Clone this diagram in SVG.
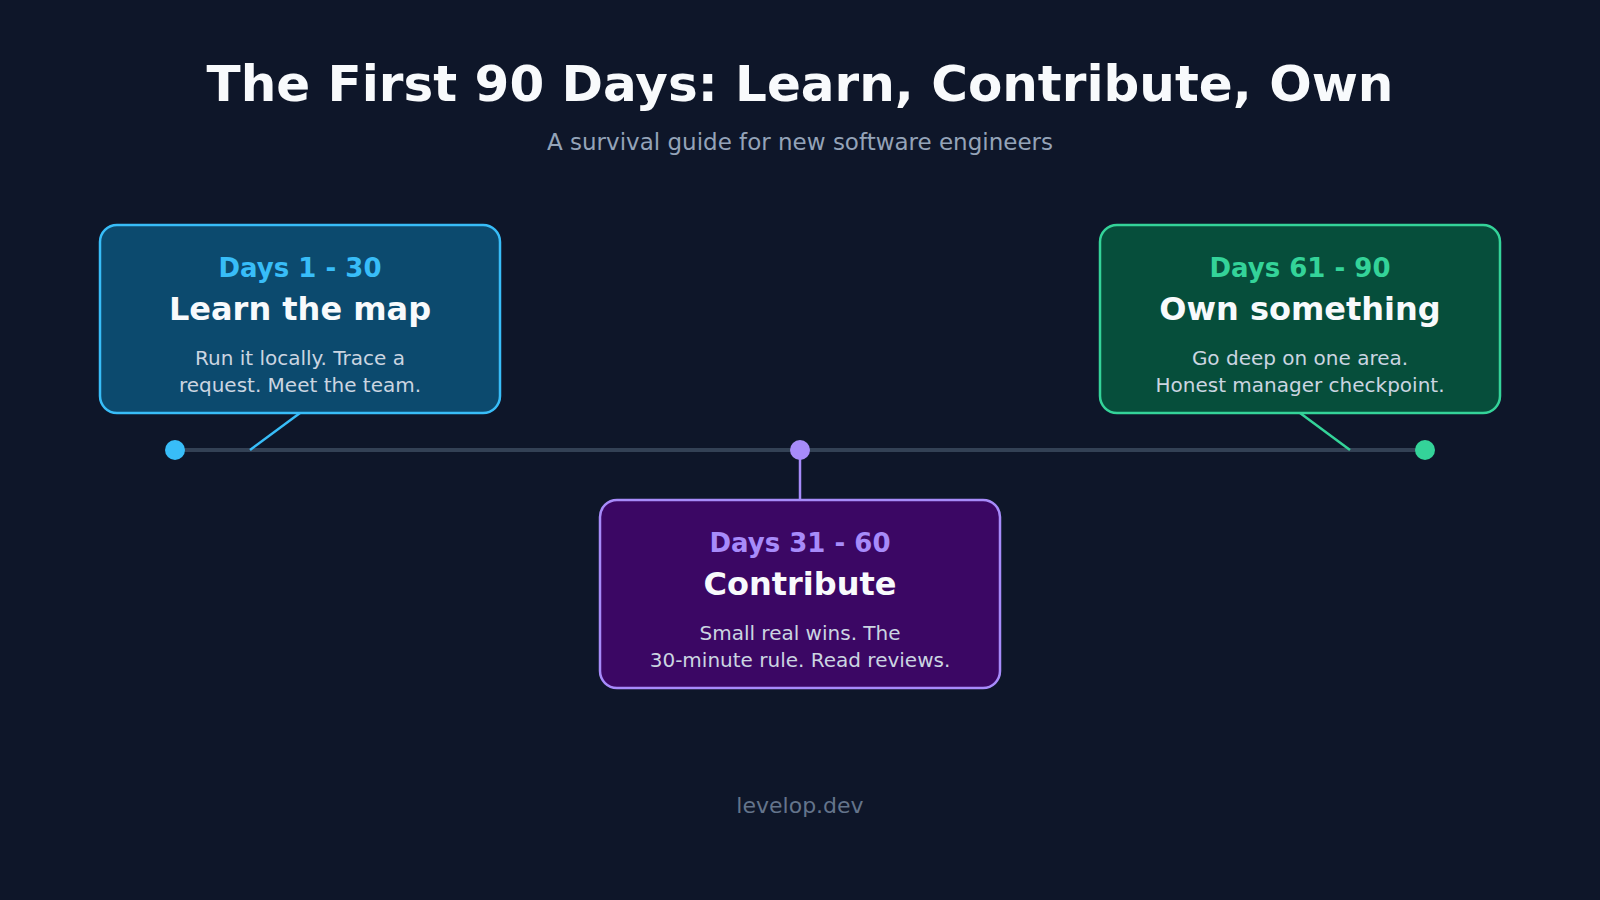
<svg xmlns="http://www.w3.org/2000/svg" width="1600" height="900" viewBox="0 0 1600 900">
<style>
text{font-family:"DejaVu Sans",Verdana,sans-serif;text-anchor:middle}
.title{font-size:50px;font-weight:bold;fill:#f8fafc}
.sub{font-size:23px;fill:#94a3b8}
.days{font-size:26px;font-weight:bold}
.head{font-size:32px;font-weight:bold;fill:#f8fafc}
.desc{font-size:20px;fill:#cbd5e1}
.foot{font-size:22px;fill:#64748b}
.box{stroke-width:2.5}
</style>
<rect width="1600" height="900" fill="#0e1629"/>
<text class="title" x="800" y="101">The First 90 Days: Learn, Contribute, Own</text>
<text class="sub" x="800" y="150">A survival guide for new software engineers</text>
<g id="connectors" stroke-width="2.5">
<line x1="175" y1="450" x2="1425" y2="450" stroke="#334155" stroke-width="4"/>
<line x1="300" y1="413" x2="250" y2="450" stroke="#38bdf8"/>
<line x1="800" y1="450" x2="800" y2="500" stroke="#a78bfa"/>
<line x1="1300" y1="413" x2="1350" y2="450" stroke="#34d399"/>
<circle cx="175" cy="450" r="10" fill="#38bdf8"/>
<circle cx="800" cy="450" r="10" fill="#a78bfa"/>
<circle cx="1425" cy="450" r="10" fill="#34d399"/>
</g>
<g id="phase1">
<rect class="box" x="100" y="225" width="400" height="188" rx="17" fill="#0c4a6e" stroke="#38bdf8"/>
<text class="days" x="300" y="277" fill="#38bdf8">Days 1 - 30</text>
<text class="head" x="300" y="320">Learn the map</text>
<text class="desc" x="300" y="365">Run it locally. Trace a</text>
<text class="desc" x="300" y="392">request. Meet the team.</text>
</g>
<g id="phase2">
<rect class="box" x="600" y="500" width="400" height="188" rx="17" fill="#3b0764" stroke="#a78bfa"/>
<text class="days" x="800" y="552" fill="#a78bfa">Days 31 - 60</text>
<text class="head" x="800" y="595">Contribute</text>
<text class="desc" x="800" y="640">Small real wins. The</text>
<text class="desc" x="800" y="667">30-minute rule. Read reviews.</text>
</g>
<g id="phase3">
<rect class="box" x="1100" y="225" width="400" height="188" rx="17" fill="#064e3b" stroke="#34d399"/>
<text class="days" x="1300" y="277" fill="#34d399">Days 61 - 90</text>
<text class="head" x="1300" y="320">Own something</text>
<text class="desc" x="1300" y="365">Go deep on one area.</text>
<text class="desc" x="1300" y="392">Honest manager checkpoint.</text>
</g>
<text class="foot" x="800" y="813">levelop.dev</text>
</svg>
